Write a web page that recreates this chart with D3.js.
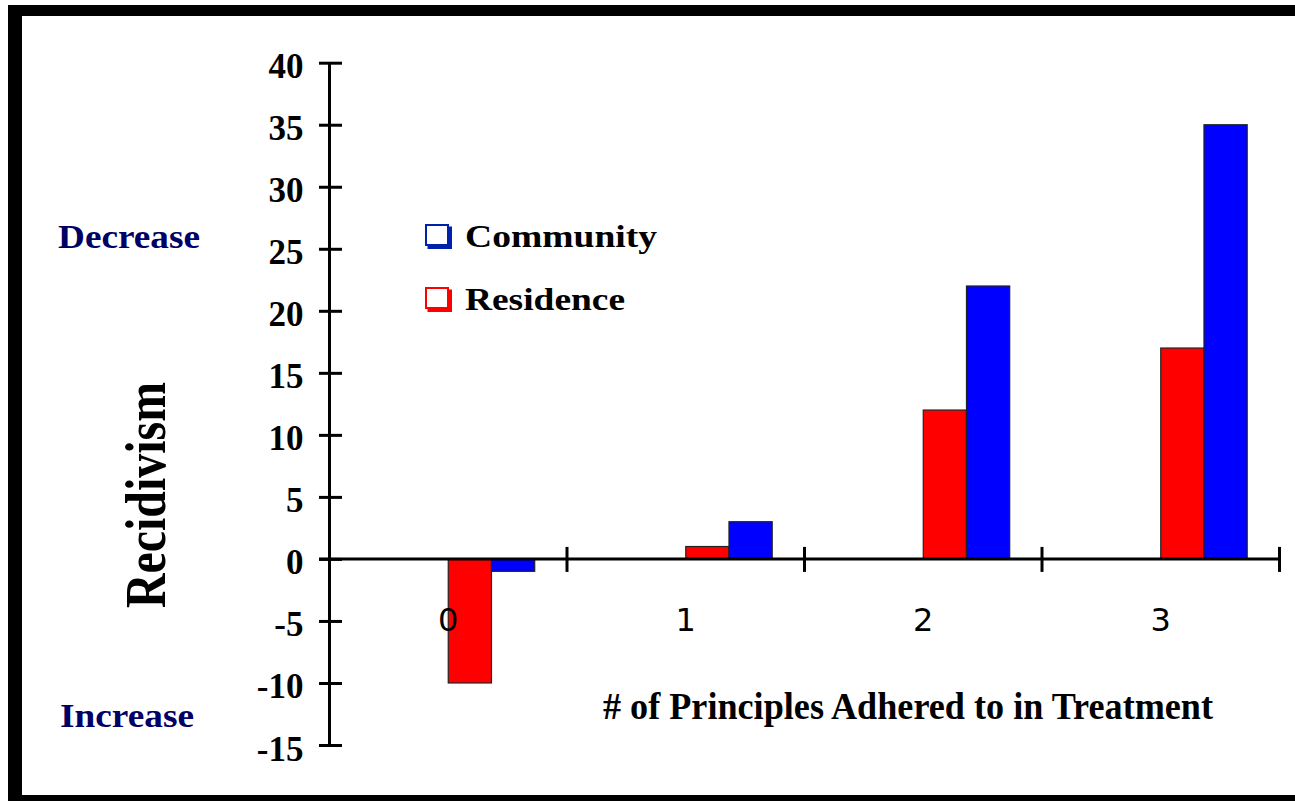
<!DOCTYPE html>
<html><head><meta charset="utf-8">
<script src="https://cdn.jsdelivr.net/npm/d3@7"></script>
<style>body{margin:0;background:#fff}svg{display:block}</style>
</head><body><svg id="c" width="1295" height="801"></svg>
<script>
// ---- data ----
const categories = ["0", "1", "2", "3"];
const seriesNames = ["Residence", "Community"];
const residence = [-10, 1, 12, 17];
const community = [-1, 3, 22, 35];
const yTicks = [-15, -10, -5, 0, 5, 10, 15, 20, 25, 30, 35, 40];
const legendItems = ["Community", "Residence"];
const xTitle = "# of Principles Adhered to in Treatment";
const yTitle = "Recidivism";
const topNote = "Decrease";
const bottomNote = "Increase";

const barColors = { Residence: "#ff0000", Community: "#0000ff" };
const legendColors = { Community: "#0022aa", Residence: "#ff0000" };
const seriesValues = { Residence: residence, Community: community };

const svg = d3.select("#c");
const serif = "'Liberation Serif','Times New Roman',serif";

// frame
svg.append("rect").attr("x", 8).attr("y", 5).attr("width", 1300).attr("height", 11).attr("fill", "#000");
svg.append("rect").attr("x", 8).attr("y", 5).attr("width", 14).attr("height", 800).attr("fill", "#000");
svg.append("rect").attr("x", 8).attr("y", 795).attr("width", 1300).attr("height", 8).attr("fill", "#000");

// scales
const y = d3.scaleLinear().domain([-15, 40]).range([745, 62.7]);
const x = d3.scaleBand().domain(categories).range([329.5, 1279.5]).padding(0);
const bw = x.bandwidth();
const barW = bw * 0.182;

// bars
const rows = [];
categories.forEach((c, i) => {
  seriesNames.forEach((s, j) => rows.push({ c, s, j, v: seriesValues[s][i] }));
});
svg.append("g").selectAll("rect").data(rows).join("rect")
  .attr("x", d => x(d.c) + bw / 2 + d.j * barW)
  .attr("width", barW)
  .attr("y", d => Math.min(y(d.v), y(0)))
  .attr("height", d => Math.abs(y(d.v) - y(0)))
  .attr("fill", d => barColors[d.s])
  .attr("stroke", "#222")
  .attr("stroke-width", 1.2);

// y axis
const yAxis = svg.append("g").attr("transform", "translate(329.5,0)")
  .call(d3.axisLeft(y).tickValues(yTicks).tickSize(10).tickPadding(0).tickFormat(d => String(d)));
yAxis.select(".domain").attr("stroke", "#000").attr("stroke-width", 3)
  .attr("d", `M0,${y(40)}V${y(-15)}`);
yAxis.selectAll(".tick line").attr("x1", 12.5).attr("x2", -10.5).attr("stroke", "#000").attr("stroke-width", 3);
yAxis.selectAll(".tick text")
  .attr("x", -26).attr("dy", null).attr("y", 15)
  .attr("font-family", serif).attr("font-weight", "bold").attr("font-size", 35)
  .attr("fill", "#000").attr("text-anchor", "end");

// x axis
const y0 = y(0);
const xAxis = svg.append("g").attr("transform", `translate(0,${y0})`)
  .call(d3.axisBottom(x).tickSize(0).tickPadding(0));
xAxis.select(".domain").attr("stroke", "#000").attr("stroke-width", 3)
  .attr("d", `M319,0H${x.range()[1]}`);
xAxis.selectAll(".tick text")
  .attr("y", 72).attr("dy", null)
  .attr("font-family", "'DejaVu Sans',Verdana,sans-serif").attr("font-size", 32)
  .attr("fill", "#000");
const boundaries = categories.slice(1).map(c => x(c)).concat([x.range()[1]]);
svg.append("g").selectAll("line").data(boundaries).join("line")
  .attr("x1", d => d).attr("x2", d => d)
  .attr("y1", y0 - 12).attr("y2", y0 + 13)
  .attr("stroke", "#000").attr("stroke-width", 3);
xAxis.raise();

// titles
svg.append("text").attr("transform", "translate(165,495) rotate(-90)")
  .attr("text-anchor", "middle").attr("font-family", serif).attr("font-weight", "bold").attr("font-size", 58)
  .attr("textLength", 226).attr("lengthAdjust", "spacingAndGlyphs")
  .attr("fill", "#000").text(yTitle);

svg.append("text").attr("x", 603).attr("y", 719)
  .attr("font-family", serif).attr("font-weight", "bold").attr("font-size", 38)
  .attr("textLength", 610).attr("lengthAdjust", "spacingAndGlyphs")
  .attr("fill", "#000").text(xTitle);

svg.append("text").attr("x", 58).attr("y", 248)
  .attr("font-family", serif).attr("font-weight", "bold").attr("font-size", 34)
  .attr("textLength", 142).attr("lengthAdjust", "spacingAndGlyphs")
  .attr("fill", "#000066").text(topNote);

svg.append("text").attr("x", 60).attr("y", 727)
  .attr("font-family", serif).attr("font-weight", "bold").attr("font-size", 34)
  .attr("textLength", 134).attr("lengthAdjust", "spacingAndGlyphs")
  .attr("fill", "#000066").text(bottomNote);

// legend
const legendY = { Community: 224, Residence: 287 };
const legendTextW = { Community: 192, Residence: 160 };
const lg = svg.append("g").selectAll("g").data(legendItems).join("g")
  .attr("transform", d => `translate(425,${legendY[d]})`);
lg.append("rect").attr("x", 1).attr("y", 1).attr("width", 22).attr("height", 20)
  .attr("fill", "#fff").attr("stroke", d => legendColors[d]).attr("stroke-width", 2);
lg.append("path").attr("d", "M2.5,23H25V2.5").attr("fill", "none")
  .attr("stroke", d => legendColors[d]).attr("stroke-width", 4);
lg.append("text").attr("x", 40).attr("y", 23)
  .attr("font-family", serif).attr("font-weight", "bold").attr("font-size", 32)
  .attr("textLength", d => legendTextW[d]).attr("lengthAdjust", "spacingAndGlyphs")
  .attr("fill", "#000").text(d => d);
</script></body></html>
